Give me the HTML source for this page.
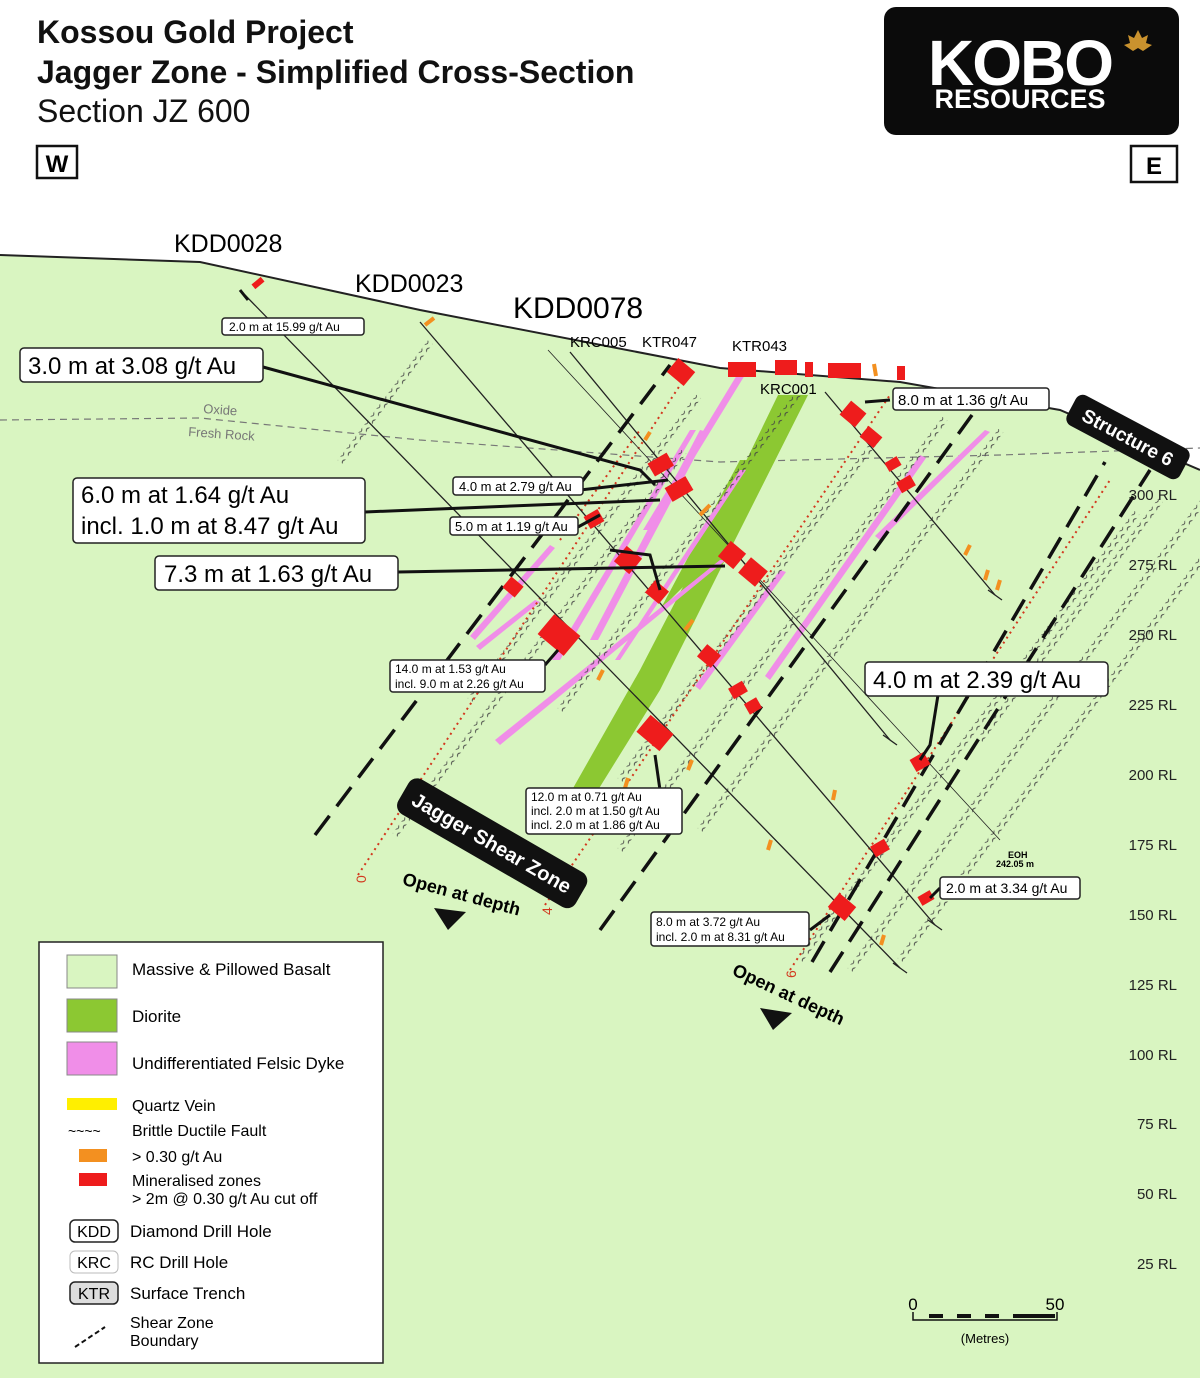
<!DOCTYPE html>
<html><head><meta charset="utf-8"><style>
body{margin:0;background:#fff}
svg{display:block;font-family:"Liberation Sans",Arial,sans-serif}
.lb{fill:#fff;stroke:#222;stroke-width:1.5}
</style></head><body>
<svg width="1200" height="1378" viewBox="0 0 1200 1378" xmlns="http://www.w3.org/2000/svg">
<defs>
<pattern id="wv" width="10" height="6" patternUnits="userSpaceOnUse">
<path d="M0 3 q2.5 -3 5 0 t5 0" fill="none" stroke="#444" stroke-width="0.9"/>
</pattern>
</defs>
<rect width="1200" height="1378" fill="#d9f5c1"/>
<path d="M0 0H1200V470L1060 410 900 382 720 368 420 310 200 262 0 255Z" fill="#fff"/>
<path d="M0 255L200 262 420 310 720 368 900 382 1060 410 1200 470" fill="none" stroke="#222" stroke-width="2"/>
<path d="M0 420 L200 418 420 440 720 462 1000 455 1200 448" fill="none" stroke="#777" stroke-width="1.2" stroke-dasharray="7 5"/>
<text x="203" y="413" font-size="13" fill="#777" transform="rotate(4 203 413)">Oxide</text>
<text x="188" y="436" font-size="13" fill="#777" transform="rotate(4 188 436)">Fresh Rock</text>

<text x="37" y="43" font-size="32" font-weight="bold" fill="#111">Kossou Gold Project</text>
<text x="37" y="83" font-size="32" font-weight="bold" fill="#111">Jagger Zone - Simplified Cross-Section</text>
<text x="37" y="122" font-size="32" fill="#111">Section JZ 600</text>
<rect x="37" y="146" width="40" height="32" fill="#fff" stroke="#111" stroke-width="2.5"/>
<text x="57" y="172" font-size="24" font-weight="bold" text-anchor="middle">W</text>
<rect x="1131" y="146" width="46" height="36" fill="#fff" stroke="#111" stroke-width="2.5"/>
<text x="1154" y="174" font-size="24" font-weight="bold" text-anchor="middle">E</text>
<rect x="884" y="7" width="295" height="128" rx="12" fill="#0b0b0b"/>
<text x="1020" y="85" font-size="64" font-weight="bold" fill="#fff" text-anchor="middle" letter-spacing="-2">KOBO</text>
<text x="1020" y="108" font-size="27" font-weight="bold" fill="#fff" text-anchor="middle">RESOURCES</text>
<path d="M1138 30 l4 8 6 -3 -2 8 6 2 -9 6 -5 -3 -5 3 -9 -6 6 -2 -2 -8 6 3z" fill="#c9922e"/>

<path d="M778 395 L808 395 L735 540 L660 690 L598 790 L572 790 L640 670 L715 525Z" fill="#8cc832"/>
<path d="M740 460 L750 460 L690 580 L660 610 Z" fill="#8cc832"/>
<g fill="#f08ee8">
<path d="M740 370 L748 370 L650 530 L643 530Z"/>
<path d="M700 430 L708 432 L598 640 L590 640Z"/>
<path d="M690 430 L696 430 L560 660 L552 660Z"/>
<path d="M740 470 L746 470 L620 660 L615 660Z"/>
<path d="M720 560 L726 560 L500 745 L495 740Z"/>
<path d="M550 545 L555 548 L475 640 L470 636Z"/>
<path d="M535 600 L540 602 L480 650 L476 646Z"/>
<path d="M920 455 L926 458 L770 680 L765 676Z"/>
<path d="M985 430 L990 432 L880 540 L875 536Z"/>
<path d="M780 570 L786 572 L700 690 L695 686Z"/>
</g>

<g fill="url(#wv)">
<rect x="0" y="-3" width="150" height="6" transform="translate(340 462) rotate(-53)"/>
<rect x="0" y="-3" width="480" height="6" transform="translate(395 835) rotate(-53)"/>
<rect x="0" y="-3" width="380" height="6" transform="translate(470 700) rotate(-53)"/>
<rect x="0" y="-3" width="400" height="6" transform="translate(560 710) rotate(-53)"/>
<rect x="0" y="-3" width="430" height="6" transform="translate(620 780) rotate(-53)"/>
<rect x="0" y="-3" width="540" height="6" transform="translate(620 850) rotate(-53)"/>
<rect x="0" y="-3" width="500" height="6" transform="translate(700 830) rotate(-53)"/>
<rect x="0" y="-3" width="560" height="6" transform="translate(800 960) rotate(-53)"/>
<rect x="0" y="-3" width="620" height="6" transform="translate(850 970) rotate(-53)"/>
<rect x="0" y="-3" width="600" height="6" transform="translate(900 960) rotate(-53)"/>
<rect x="0" y="-3" width="300" height="6" transform="translate(980 740) rotate(-53)"/>
</g>

<g stroke="#d2381e" stroke-width="2" stroke-dasharray="2 4" fill="none">
<line x1="358" y1="875" x2="690" y2="370"/>
<line x1="545" y1="905" x2="890" y2="395"/>
<line x1="790" y1="970" x2="1110" y2="480"/>
<line x1="560" y1="540" x2="640" y2="430"/>
</g>
<text x="366" y="883" font-size="14" fill="#d2381e" transform="rotate(-90 366 883)">0</text>
<text x="552" y="915" font-size="14" fill="#d2381e" transform="rotate(-90 552 915)">4</text>
<text x="796" y="978" font-size="14" fill="#d2381e" transform="rotate(-90 796 978)">6</text>

<g stroke="#222" stroke-width="1.3" fill="none">
<line x1="245" y1="295" x2="900" y2="968"/>
<line x1="420" y1="322" x2="935" y2="925"/>
<line x1="548" y1="350" x2="1000" y2="840" stroke-width="0.8"/>
<line x1="570" y1="352" x2="890" y2="740"/>
<line x1="825" y1="392" x2="995" y2="595"/>
<line x1="893" y1="963" x2="907" y2="973"/>
<line x1="928" y1="920" x2="942" y2="930"/>
<line x1="883" y1="735" x2="897" y2="745"/>
<line x1="988" y1="590" x2="1002" y2="600"/>
</g>
<g stroke="#111" stroke-width="3.5" stroke-dasharray="24 12" fill="none">
<line x1="315" y1="835" x2="670" y2="365"/>
<line x1="600" y1="930" x2="972" y2="415"/>
<line x1="812" y1="962" x2="1105" y2="462"/>
<line x1="830" y1="972" x2="1150" y2="470"/>
</g>

<g fill="#ee1c1c">
<rect x="728" y="362" width="28" height="15"/><rect x="775" y="360" width="22" height="15"/><rect x="805" y="362" width="8" height="15"/><rect x="828" y="363" width="33" height="15"/><rect x="897" y="366" width="8" height="14"/>
<rect x="670" y="363" width="22" height="18" transform="rotate(40 681 372)"/>
<rect x="650" y="457" width="22" height="15" transform="rotate(-30 661 465)"/>
<rect x="667" y="481" width="24" height="16" transform="rotate(-30 679 489)"/>
<rect x="586" y="512" width="16" height="14" transform="rotate(-30 594 519)"/>
<rect x="618" y="550" width="20" height="20" transform="rotate(40 628 560)"/>
<rect x="722" y="545" width="20" height="20" transform="rotate(40 732 555)"/>
<rect x="742" y="562" width="22" height="20" transform="rotate(40 753 572)"/>
<rect x="648" y="584" width="18" height="16" transform="rotate(40 657 592)"/>
<rect x="505" y="580" width="16" height="14" transform="rotate(40 513 587)"/>
<rect x="542" y="622" width="34" height="26" transform="rotate(40 559 635)"/>
<rect x="700" y="648" width="18" height="16" transform="rotate(40 709 656)"/>
<rect x="730" y="684" width="16" height="12" transform="rotate(-30 738 690)"/>
<rect x="746" y="700" width="14" height="12" transform="rotate(-30 753 706)"/>
<rect x="640" y="722" width="30" height="22" transform="rotate(40 655 733)"/>
<rect x="843" y="405" width="20" height="18" transform="rotate(40 853 414)"/>
<rect x="862" y="430" width="18" height="14" transform="rotate(40 871 437)"/>
<rect x="886" y="459" width="14" height="10" transform="rotate(-30 893 464)"/>
<rect x="898" y="478" width="16" height="12" transform="rotate(-30 906 484)"/>
<rect x="912" y="755" width="16" height="14" transform="rotate(-30 920 762)"/>
<rect x="872" y="842" width="16" height="12" transform="rotate(-30 880 848)"/>
<rect x="831" y="898" width="22" height="18" transform="rotate(40 842 907)"/>
<rect x="919" y="893" width="14" height="10" transform="rotate(-30 926 898)"/>
<rect x="252" y="280" width="12" height="6" transform="rotate(-40 258 283)"/>
</g>
<g stroke="#f39020" stroke-width="4">
<line x1="874" y1="364" x2="876" y2="376"/><line x1="425" y1="325" x2="434" y2="318"/>
<line x1="965" y1="555" x2="970" y2="545"/><line x1="985" y1="580" x2="988" y2="570"/><line x1="997" y1="590" x2="1000" y2="580"/>
<line x1="833" y1="800" x2="835" y2="790"/><line x1="768" y1="850" x2="771" y2="840"/><line x1="881" y1="945" x2="884" y2="935"/>
<line x1="700" y1="515" x2="710" y2="505"/><line x1="685" y1="630" x2="693" y2="620"/><line x1="598" y1="680" x2="603" y2="670"/>
<line x1="645" y1="440" x2="650" y2="432"/><line x1="625" y1="788" x2="628" y2="778"/><line x1="688" y1="770" x2="692" y2="760"/>
</g>

<g stroke="#111" stroke-width="3" fill="none">
<path d="M263 367 L640 470 L655 485"/>
<path d="M365 512 L660 500"/>
<path d="M398 572 L725 566"/>
<path d="M580 490 L668 480"/><path d="M578 527 L600 515"/>
<path d="M545 665 L558 650"/>
<path d="M610 550 L650 555 L660 590"/>
<path d="M655 755 L660 790"/>
<path d="M890 400 L865 402"/>
<path d="M938 695 L930 745 L920 760"/>
<path d="M810 930 L830 915"/><path d="M940 888 L930 898"/>
<path d="M240 290 L248 300"/>
</g>

<text x="174" y="252" font-size="25">KDD0028</text>
<text x="355" y="292" font-size="25">KDD0023</text>
<text x="513" y="318" font-size="30">KDD0078</text>
<text x="570" y="347" font-size="15">KRC005</text>
<text x="642" y="347" font-size="15">KTR047</text>
<text x="732" y="351" font-size="15">KTR043</text>
<text x="760" y="394" font-size="15">KRC001</text>
<text x="1008" y="858" font-size="9" font-weight="bold">EOH</text>
<text x="996" y="867" font-size="9" font-weight="bold">242.05 m</text>

<rect class="lb" x="222" y="318" width="142" height="17" rx="3"/><text x="229" y="331" font-size="12">2.0 m at 15.99 g/t Au</text>
<rect class="lb" x="20" y="348" width="243" height="34" rx="4"/><text x="28" y="374" font-size="24">3.0 m at 3.08 g/t Au</text>
<rect class="lb" x="73" y="478" width="292" height="65" rx="4"/><text x="81" y="503" font-size="24">6.0 m at 1.64 g/t Au</text><text x="81" y="534" font-size="24">incl. 1.0 m at 8.47 g/t Au</text>
<rect class="lb" x="155" y="556" width="243" height="34" rx="4"/><text x="164" y="582" font-size="24">7.3 m at 1.63 g/t Au</text>
<rect class="lb" x="453" y="477" width="130" height="18" rx="3"/><text x="459" y="491" font-size="13">4.0 m at 2.79 g/t Au</text>
<rect class="lb" x="450" y="517" width="128" height="18" rx="3"/><text x="455" y="531" font-size="13">5.0 m at 1.19 g/t Au</text>
<rect class="lb" x="390" y="660" width="155" height="32" rx="3"/><text x="395" y="673" font-size="12">14.0 m at 1.53 g/t Au</text><text x="395" y="688" font-size="12">incl. 9.0 m at 2.26 g/t Au</text>
<rect class="lb" x="526" y="788" width="156" height="46" rx="3"/><text x="531" y="801" font-size="12">12.0 m at 0.71 g/t Au</text><text x="531" y="815" font-size="12">incl. 2.0 m at 1.50 g/t Au</text><text x="531" y="829" font-size="12">incl. 2.0 m at 1.86 g/t Au</text>
<rect class="lb" x="651" y="912" width="158" height="34" rx="3"/><text x="656" y="926" font-size="12">8.0 m at 3.72 g/t Au</text><text x="656" y="941" font-size="12">incl. 2.0 m at 8.31 g/t Au</text>
<rect class="lb" x="893" y="388" width="156" height="22" rx="3"/><text x="898" y="405" font-size="15">8.0 m at 1.36 g/t Au</text>
<rect class="lb" x="865" y="662" width="243" height="34" rx="4"/><text x="873" y="688" font-size="24">4.0 m at 2.39 g/t Au</text>
<rect class="lb" x="940" y="877" width="140" height="22" rx="3"/><text x="946" y="893" font-size="14">2.0 m at 3.34 g/t Au</text>

<g transform="translate(490 842) rotate(30)"><rect x="-100" y="-20" width="205" height="40" rx="10" fill="#111"/><text x="2" y="7" font-size="20" font-weight="bold" fill="#fff" text-anchor="middle">Jagger Shear Zone</text></g>
<g transform="translate(1128 437) rotate(28)"><rect x="-64" y="-17" width="128" height="34" rx="8" fill="#111"/><text x="0" y="7" font-size="19" font-weight="bold" fill="#fff" text-anchor="middle">Structure 6</text></g>
<text x="460" y="900" font-size="18" font-weight="bold" transform="rotate(15 460 900)" text-anchor="middle">Open at depth</text>
<path d="M434 908 L466 912 L448 930Z" fill="#111"/>
<text x="786" y="1000" font-size="18" font-weight="bold" transform="rotate(25 786 1000)" text-anchor="middle">Open at depth</text>
<path d="M760 1008 L792 1013 L773 1030Z" fill="#111"/>

<g font-size="15" fill="#222" text-anchor="end">
<text x="1177" y="500">300 RL</text><text x="1177" y="570">275 RL</text><text x="1177" y="640">250 RL</text><text x="1177" y="710">225 RL</text><text x="1177" y="780">200 RL</text><text x="1177" y="850">175 RL</text><text x="1177" y="920">150 RL</text><text x="1177" y="990">125 RL</text><text x="1177" y="1060">100 RL</text><text x="1177" y="1129">75 RL</text><text x="1177" y="1199">50 RL</text><text x="1177" y="1269">25 RL</text>
</g>
<text x="913" y="1310" font-size="17" text-anchor="middle">0</text><text x="1055" y="1310" font-size="17" text-anchor="middle">50</text>
<path d="M913 1312 V1320 H1057 V1312" fill="none" stroke="#111" stroke-width="1.5"/>
<g fill="#111"><rect x="929" y="1314" width="14" height="4"/><rect x="957" y="1314" width="14" height="4"/><rect x="985" y="1314" width="14" height="4"/><rect x="1013" y="1314" width="42" height="4"/></g>
<text x="985" y="1343" font-size="13" text-anchor="middle">(Metres)</text>

<rect x="39" y="942" width="344" height="421" fill="#fff" stroke="#222" stroke-width="1.5"/>
<rect x="67" y="955" width="50" height="33" fill="#d9f5c1" stroke="#888"/><text x="132" y="975" font-size="17">Massive &amp; Pillowed Basalt</text>
<rect x="67" y="999" width="50" height="33" fill="#8cc832" stroke="#888"/><text x="132" y="1022" font-size="17">Diorite</text>
<rect x="67" y="1042" width="50" height="33" fill="#f08ee8" stroke="#888"/><text x="132" y="1069" font-size="17">Undifferentiated Felsic Dyke</text>
<rect x="67" y="1098" width="50" height="12" fill="#ffef00"/><text x="132" y="1111" font-size="16">Quartz Vein</text>
<text x="68" y="1136" font-size="14">~~~~</text><text x="132" y="1136" font-size="16">Brittle Ductile Fault</text>
<rect x="79" y="1149" width="28" height="13" fill="#f39020"/><text x="132" y="1162" font-size="16">&gt; 0.30 g/t Au</text>
<rect x="79" y="1173" width="28" height="13" fill="#ee1c1c"/><text x="132" y="1186" font-size="16">Mineralised zones</text><text x="132" y="1204" font-size="16">&gt; 2m @ 0.30 g/t Au cut off</text>
<rect x="70" y="1220" width="48" height="22" rx="5" fill="#fff" stroke="#222" stroke-width="1.5"/><text x="94" y="1237" font-size="16" text-anchor="middle">KDD</text><text x="130" y="1237" font-size="17">Diamond Drill Hole</text>
<rect x="70" y="1251" width="48" height="22" rx="5" fill="#fff" stroke="#bbb"/><text x="94" y="1268" font-size="16" text-anchor="middle">KRC</text><text x="130" y="1268" font-size="17">RC Drill Hole</text>
<rect x="70" y="1282" width="48" height="22" rx="5" fill="#ddd" stroke="#222" stroke-width="1.5"/><text x="94" y="1299" font-size="16" text-anchor="middle">KTR</text><text x="130" y="1299" font-size="17">Surface Trench</text>
<line x1="75" y1="1347" x2="105" y2="1327" stroke="#111" stroke-width="2" stroke-dasharray="5 3"/><text x="130" y="1328" font-size="16">Shear Zone</text><text x="130" y="1346" font-size="16">Boundary</text>
</svg>
</body></html>
